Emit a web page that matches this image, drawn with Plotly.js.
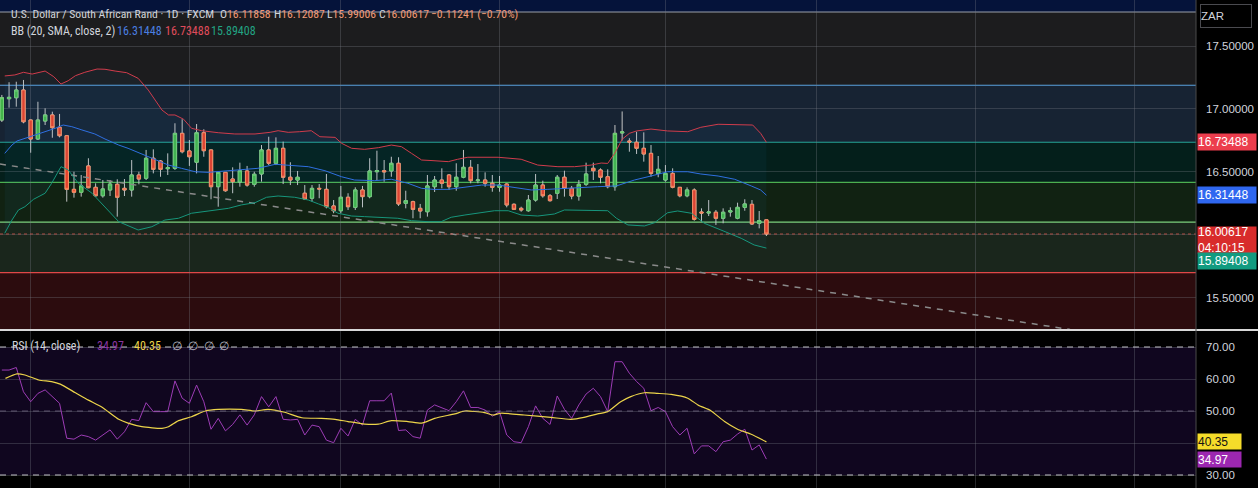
<!DOCTYPE html>
<html><head><meta charset="utf-8">
<script src="https://cdn.plot.ly/plotly-3.0.1.min.js"></script>
<style>html,body{margin:0;padding:0;background:#000;}#chart{width:1258px;height:488px;}</style>
</head><body><div id="chart"></div>
<script>
// ---------------- DATA ----------------
const open = [16.912,17.081,17.089,17.150,16.912,16.761,16.904,16.952,16.854,16.787,
16.361,16.338,16.547,16.377,16.310,16.356,16.401,16.369,16.356,16.475,
16.449,16.608,16.586,16.525,16.528,16.806,16.666,16.576,16.811,16.674,
16.382,16.496,16.443,16.419,16.507,16.401,16.483,16.674,16.568,16.687,
16.457,16.435,16.330,16.290,16.369,16.361,16.229,16.191,16.298,16.218,
16.356,16.303,16.501,16.509,16.507,16.568,16.250,16.263,16.210,16.183,
16.382,16.435,16.475,16.382,16.457,16.536,16.430,16.435,16.409,16.377,
16.403,16.242,16.210,16.191,16.276,16.395,16.310,16.330,16.457,16.369,
16.308,16.401,16.528,16.515,16.461,16.382,16.809,16.745,16.735,16.687,
16.647,16.488,16.435,16.488,16.377,16.310,16.356,16.181,16.173,16.179,
16.131,16.181,16.131,16.218,16.242,16.091,16.11858];
const high = [17.111,17.212,17.216,17.230,16.915,17.057,17.005,16.978,16.960,16.793,
16.501,16.475,16.608,16.409,16.435,16.435,16.441,16.443,16.594,16.501,
16.674,16.679,16.594,16.647,16.886,16.918,16.753,16.880,16.838,16.676,
16.498,16.498,16.536,16.573,16.547,16.501,16.713,16.779,16.774,16.740,
16.576,16.507,16.395,16.395,16.403,16.483,16.276,16.388,16.330,16.377,
16.388,16.608,16.668,16.594,16.620,16.616,16.350,16.271,16.245,16.475,
16.467,16.528,16.483,16.568,16.674,16.594,16.562,16.496,16.475,16.467,
16.409,16.250,16.223,16.316,16.483,16.430,16.324,16.475,16.509,16.388,
16.435,16.573,16.573,16.528,16.520,16.872,16.980,16.767,16.819,16.814,
16.713,16.626,16.554,16.528,16.380,16.377,16.369,16.210,16.276,16.197,
16.210,16.218,16.255,16.282,16.276,16.189,16.12087];
const low = [16.896,17.010,17.018,16.886,16.652,16.753,16.872,16.771,16.774,16.263,
16.295,16.303,16.370,16.303,16.295,16.308,16.144,16.308,16.303,16.401,
16.435,16.488,16.461,16.475,16.515,16.647,16.547,16.488,16.620,16.282,
16.223,16.342,16.330,16.382,16.382,16.382,16.422,16.554,16.554,16.403,
16.395,16.395,16.276,16.263,16.290,16.210,16.171,16.171,16.197,16.197,
16.218,16.290,16.435,16.422,16.461,16.229,16.210,16.131,16.131,16.144,
16.340,16.369,16.356,16.350,16.449,16.409,16.409,16.382,16.342,16.342,
16.218,16.197,16.183,16.183,16.263,16.295,16.263,16.284,16.303,16.282,
16.271,16.388,16.435,16.409,16.369,16.350,16.749,16.660,16.642,16.581,
16.461,16.457,16.422,16.369,16.298,16.298,16.112,16.104,16.149,16.078,
16.091,16.144,16.123,16.191,16.078,16.051,15.99006];
const close = [17.089,17.092,17.150,16.898,16.761,16.912,16.952,16.851,16.787,16.361,
16.338,16.388,16.374,16.310,16.364,16.403,16.298,16.356,16.475,16.443,
16.608,16.520,16.520,16.533,16.806,16.660,16.620,16.811,16.668,16.382,
16.496,16.350,16.422,16.509,16.395,16.481,16.674,16.568,16.687,16.457,
16.435,16.457,16.284,16.369,16.364,16.223,16.191,16.298,16.223,16.356,
16.303,16.507,16.509,16.501,16.568,16.245,16.271,16.202,16.189,16.388,
16.435,16.409,16.382,16.457,16.536,16.430,16.435,16.409,16.377,16.395,
16.237,16.202,16.197,16.276,16.395,16.310,16.271,16.457,16.369,16.308,
16.401,16.483,16.509,16.457,16.382,16.806,16.817,16.737,16.687,16.642,
16.488,16.520,16.488,16.377,16.310,16.356,16.123,16.173,16.181,16.131,
16.179,16.191,16.218,16.245,16.086,16.112,16.00617];

// Bollinger Bands (20, SMA, close, 2): [bar position, value]
const bbUpperX = [0.4,1.8,3.0,4.2,6.0,7.2,8.2,9.2,10.2,11.5,13.2,14.3,15.7,17.3,18.9,20.3,22.2,23.1,24.0,25.2,26.3,27.7,30.0,32.3,35.1,37.2,38.3,39.7,41.3,42.9,44.1,46.2,47.1,48.5,50.3,52.2,54.0,55.4,56.8,58.2,59.5,61.9,63.2,64.6,68.8,72.0,74.3,77.1,79.4,81.7,83.1,84.0,85.0,86.0,87.0,88.0,90.0,92.3,95.1,96.9,99.3,101.6,104.1,105.2,106];
const bbUpper  = [17.262,17.270,17.291,17.277,17.301,17.256,17.198,17.224,17.264,17.291,17.317,17.315,17.301,17.288,17.243,17.150,16.991,16.952,16.952,16.918,16.846,16.827,16.811,16.801,16.801,16.814,16.827,16.814,16.819,16.827,16.779,16.774,16.727,16.687,16.679,16.692,16.713,16.700,16.647,16.594,16.590,16.581,16.600,16.616,16.616,16.600,16.554,16.541,16.541,16.554,16.570,16.567,16.650,16.759,16.806,16.825,16.840,16.825,16.819,16.854,16.878,16.878,16.872,16.806,16.73488];
const bbMidX = [0.4,1.4,2.1,3.7,5.5,7.4,8.5,9.7,11.1,12.9,14.3,16.2,17.5,19.4,21.2,23.1,24.9,26.8,28.6,31.4,34.2,35.5,37.9,40.2,42.5,44.8,47.1,48.9,51.7,54.0,56.3,58.2,60.0,61.9,64.2,66.5,68.8,71.1,73.4,75.7,78.0,80.3,82.6,85.2,87.7,90.0,92.3,95.1,96.9,99.3,101.6,103.9,105.2,106];
const bbMid  = [16.647,16.713,16.745,16.775,16.811,16.846,16.872,16.859,16.833,16.801,16.761,16.713,16.687,16.642,16.600,16.554,16.528,16.501,16.496,16.507,16.520,16.528,16.560,16.549,16.541,16.509,16.461,16.435,16.430,16.441,16.409,16.369,16.360,16.361,16.377,16.395,16.395,16.377,16.356,16.361,16.369,16.377,16.382,16.388,16.435,16.467,16.501,16.501,16.483,16.467,16.441,16.388,16.356,16.31448];
const bbLowerX = [0.4,1.4,2.3,3.2,4.4,6.0,6.9,8.2,9.2,10.6,12.5,14.3,16.2,18.9,20.8,22.6,24.5,26.3,28.6,31.4,33.2,35.1,36.7,38.3,40.6,42.5,43.9,45.2,46.6,48.5,50.3,52.6,54.9,56.8,59.1,60.9,62.3,64.2,66.5,68.3,70.2,72.0,74.3,76.6,78.0,80.3,82.6,84.0,85.2,86.8,89.1,90.5,92.3,93.7,95.6,97.4,99.7,102.5,104.3,106];
const bbLower  = [16.012,16.117,16.197,16.223,16.282,16.330,16.409,16.541,16.515,16.409,16.330,16.223,16.104,16.038,16.064,16.117,16.131,16.171,16.191,16.210,16.237,16.255,16.298,16.308,16.298,16.276,16.245,16.218,16.171,16.149,16.144,16.139,16.131,16.112,16.104,16.104,16.139,16.157,16.175,16.191,16.191,16.157,16.149,16.165,16.197,16.197,16.193,16.191,16.131,16.078,16.070,16.096,16.175,16.189,16.171,16.091,16.038,15.972,15.919,15.89408];

// RSI (14, close), one value per bar
const rsi = [62.8,62.8,63.6,56.0,52.9,55.5,56.6,54.5,52.4,41.5,
41.2,42.5,42.0,40.9,42.5,44.1,41.2,43.5,47.4,47.0,
52.6,49.8,49.8,49.8,59.4,54.0,52.4,58.1,52.9,44.3,
47.7,43.8,45.8,48.8,45.6,48.8,54.5,51.3,54.5,47.4,
47.2,47.4,42.5,45.6,45.1,40.9,40.1,44.6,42.2,47.4,
45.6,53.2,53.2,53.2,55.6,43.9,44.1,42.0,41.5,50.3,
51.9,51.1,50.1,52.9,56.3,51.1,51.1,50.3,48.4,49.8,
42.5,40.4,40.1,45.1,51.6,47.7,45.8,54.7,50.5,47.7,
51.9,55.3,57.1,54.5,49.8,65.4,65.4,61.8,59.2,57.1,
50.1,51.1,49.8,45.1,42.5,44.6,36.6,39.1,39.1,37.3,
40.4,40.9,42.8,44.3,37.8,39.4,34.97];
// RSI-based MA: [bar position, value]
const rsiMaX = [0.5,2.1,3.2,5.1,6.9,8.1,10.2,12.0,13.9,16.2,17.5,19.4,22.2,23.1,24.5,26.3,28.2,30.0,33.2,35.1,36.9,39.2,41.6,44.3,46.2,48.0,50.3,52.2,54.0,56.3,58.2,60.0,62.8,64.2,66.9,68.1,69.2,72.4,76.1,78.9,80.7,82.6,84.0,85.8,87.2,89.1,90.9,92.8,95.1,96.5,98.3,100.2,102.0,103.8,106];
const rsiMa  = [60.2,61.6,61.25,59.7,59.2,58.4,55.7,53.4,51.2,47.4,46.2,45.1,44.6,45.1,47.0,48.2,50.0,50.5,50.5,50.0,50.5,49.6,47.9,47.7,47.4,46.7,45.9,45.9,47.0,46.7,46.2,47.7,49.1,50.0,49.5,48.75,49.3,48.75,48.0,47.4,48.0,49.1,49.8,52.9,54.5,55.7,55.5,55.2,54.0,51.9,50.1,46.7,44.3,42.8,40.35];

// drawn levels (zone borders, top to bottom) and trend line
const zoneLevels = [17.770, 17.188, 16.735, 16.417, 16.101, 15.699];
const trendX = [-0.26, 148.1];
const trendY = [16.562, 15.247];
const monthStarts = [4, 26, 47, 69, 92, 113, 135, 157];
const priceTicks = [15.5, 16.0, 16.5, 17.0, 17.5];
const priceTickText = ['15.50000', '', '16.50000', '17.00000', '17.50000'];
const rsiTicks = [30, 40, 50, 60, 70];
const rsiTickText = ['30.00', '', '50.00', '60.00', '70.00'];

// ---------------- BUILD ----------------
const N = close.length;
const idx = Array.from({length: N}, (_, i) => i);
const bodyHi = open.map((o, i) => Math.max(o, close[i]));
const bodyLo = open.map((o, i) => Math.min(o, close[i]));

const PW = 1196, PH = 488;
const pxX = x => x / PW, pxY = y => 1 - y / PH;
const LEG = '"Liberation Sans Narrow", "Arial Narrow", "Roboto Condensed", Roboto, sans-serif';
const AX = '"Liberation Sans", Arial, sans-serif';
const gridCol = 'rgba(120,123,134,0.32)';

const traces = [
  {type:'scatter', x: bbUpperX.concat(bbLowerX.slice().reverse()), y: bbUpper.concat(bbLower.slice().reverse()),
   fill:'toself', fillcolor:'rgba(33,150,243,0.05)', line:{width:0}, mode:'lines', hoverinfo:'skip', xaxis:'x', yaxis:'y'},
  {type:'scatter', x: trendX, y: trendY, mode:'lines', line:{color:'#8a8a8a', width:1.5, dash:'6px,6px'}, hoverinfo:'skip', xaxis:'x', yaxis:'y'},
  {type:'scatter', x: bbUpperX, y: bbUpper, mode:'lines', line:{color:'#d03c4c', width:1}, hoverinfo:'skip', xaxis:'x', yaxis:'y'},
  {type:'scatter', x: bbMidX, y: bbMid, mode:'lines', line:{color:'#2f6fe0', width:1}, hoverinfo:'skip', xaxis:'x', yaxis:'y'},
  {type:'scatter', x: bbLowerX, y: bbLower, mode:'lines', line:{color:'#17967c', width:1}, hoverinfo:'skip', xaxis:'x', yaxis:'y'},
  // wicks
  {type:'candlestick', x: idx, open: open, high: high, low: low, close: close, whiskerwidth:0,
   increasing:{line:{color:'#c4c4c4', width:1}, fillcolor:'rgba(0,0,0,0)'},
   decreasing:{line:{color:'#c4c4c4', width:1}, fillcolor:'rgba(0,0,0,0)'}, hoverinfo:'skip', xaxis:'x', yaxis:'y'},
  // bodies
  {type:'candlestick', x: idx, open: open, high: bodyHi, low: bodyLo, close: close, whiskerwidth:0,
   increasing:{line:{color:'#72cf74', width:1}, fillcolor:'#43b54a'},
   decreasing:{line:{color:'#ff8a5c', width:1}, fillcolor:'#e5402c'}, hoverinfo:'skip', xaxis:'x', yaxis:'y'},
  // RSI pane
  {type:'scatter', x: idx, y: rsi, mode:'lines', line:{color:'#9c3cb5', width:1}, hoverinfo:'skip', xaxis:'x', yaxis:'y2'},
  {type:'scatter', x: rsiMaX, y: rsiMa, mode:'lines', line:{color:'#ecd44a', width:1.2, shape:'spline', smoothing:0.6}, hoverinfo:'skip', xaxis:'x', yaxis:'y2'}
];

const zoneFills = ['#05133a', '#1c1c1e', '#172333', '#041f1b', '#112212', '#1a261c', '#2c0c0e'];
const zoneLines = ['#9aa0aa', '#5ba3e0', '#26a69a', '#4caf50', '#7ccf7c', '#e04848'];
const shapes = [];
const bounds = [18.5].concat(zoneLevels).concat([14.5]);
for (let i = 0; i < zoneFills.length; i++) {
  shapes.push({type:'rect', xref:'paper', yref:'y', x0:0, x1:1, y0:bounds[i+1], y1:bounds[i], fillcolor:zoneFills[i], line:{width:0}, layer:'below'});
}
zoneLevels.forEach((lv, i) => shapes.push({type:'line', xref:'paper', yref:'y', x0:0, x1:1, y0:lv, y1:lv, line:{color:zoneLines[i], width:1.2}, layer:'below'}));
// RSI band + levels
shapes.push({type:'rect', xref:'paper', yref:'y2', x0:0, x1:1, y0:30, y1:70, fillcolor:'#10061f', line:{width:0}, layer:'below'});
shapes.push({type:'line', xref:'paper', yref:'y2', x0:0, x1:1, y0:70, y1:70, line:{color:'#bfbfc4', width:1, dash:'6px,5px'}});
shapes.push({type:'line', xref:'paper', yref:'y2', x0:0, x1:1, y0:30, y1:30, line:{color:'#bfbfc4', width:1, dash:'6px,5px'}});
shapes.push({type:'line', xref:'paper', yref:'y2', x0:0, x1:1, y0:50, y1:50, line:{color:'rgba(150,140,170,0.55)', width:1, dash:'6px,5px'}});
// last price dotted line
const lastC = close[N-1];
shapes.push({type:'line', xref:'paper', yref:'y', x0:0, x1:1, y0:lastC, y1:lastC, line:{color:'rgba(220,90,80,0.75)', width:1, dash:'dot'}});
// pane separator and axis border
shapes.push({type:'line', xref:'paper', yref:'paper', x0:0, x1:1258/PW, y0:158/PH, y1:158/PH, line:{color:'#d8d8d8', width:2}});
shapes.push({type:'line', xref:'paper', yref:'paper', x0:1, x1:1, y0:0, y1:1, line:{color:'#4a4a4a', width:1}});

const ann = [];
function txt(x, y, text, color, size) {
  ann.push({xref:'paper', yref:'paper', x:pxX(x), y:pxY(y), xanchor:'left', yanchor:'middle', showarrow:false,
    text:text, font:{family:LEG, size:size || 12, color:color}});
}
const VAL = '#f29a76';
const sp = (c, t) => '<span style="color:' + c + '">' + t + '</span>';
const chg = lastC - open[N-1];
const pct = chg / open[N-1] * 100;
const fmtSigned = (v, d) => (v < 0 ? '\u2212' : '+') + Math.abs(v).toFixed(d);
txt(9, 14, 'U.S. Dollar / South African Rand \u00b7 1D \u00b7 FXCM', '#d1d4dc', 11.7);
txt(218, 14, 'O' + sp(VAL, open[N-1].toFixed(5)), '#d1d4dc', 11.7);
txt(272, 14, 'H' + sp(VAL, high[N-1].toFixed(5)), '#d1d4dc', 11.7);
txt(325, 14, 'L' + sp(VAL, low[N-1].toFixed(5)), '#d1d4dc', 11.7);
txt(377, 14, 'C' + sp(VAL, lastC.toFixed(5)), '#d1d4dc', 11.7);
txt(429, 14, fmtSigned(chg, 5) + ' (' + fmtSigned(pct, 2) + '%)', VAL, 11.7);
txt(9, 31, 'BB (20, SMA, close, 2)', '#d1d4dc');
txt(115, 31, bbMid[bbMid.length-1].toFixed(5), '#4a7fe0');
txt(163, 31, bbUpper[bbUpper.length-1].toFixed(5), '#e04c5c');
txt(209, 31, bbLower[bbLower.length-1].toFixed(5), '#22a383');
txt(10, 346, 'RSI (14, close)', '#d1d4dc');
txt(95, 346, rsi[N-1].toFixed(2), '#8a35a0');
txt(132, 346, rsiMa[rsiMa.length-1].toFixed(2), '#ecd44a');
[170, 186, 202, 217].forEach(x => txt(x, 346, '\u2205', '#b2b5be'));

function box(yref, y, text, bg, fg, opts) {
  ann.push(Object.assign({xref:'paper', yref:yref, x:1, y:y, xanchor:'left', yanchor:'middle', showarrow:false,
    text:text, bgcolor:bg, width:58, height:16, align:'left', borderpad:0, xshift:1,
    font:{family:AX, size:12, color:fg}}, opts || {}));
}
box('y', bbUpper[bbUpper.length-1], bbUpper[bbUpper.length-1].toFixed(5), '#ec3d4d', '#ffffff');
box('y', bbMid[bbMid.length-1], bbMid[bbMid.length-1].toFixed(5), '#2f67f0', '#ffffff');
box('y', lastC, lastC.toFixed(5) + '<br>04:10:15', '#d82c2c', '#ffffff', {yanchor:'top', yshift:8, height:26});
box('y', bbLower[bbLower.length-1], bbLower[bbLower.length-1].toFixed(5), '#129b80', '#ffffff', {yanchor:'top', yshift:-4});
box('y2', rsiMa[rsiMa.length-1], rsiMa[rsiMa.length-1].toFixed(2), '#f5dc2a', '#131313', {width:43, height:15});
box('y2', rsi[N-1], rsi[N-1].toFixed(2), '#9c27b0', '#ffffff', {width:43, height:15});
ann.push({xref:'paper', yref:'paper', x:1, xshift:4, y:pxY(4), xanchor:'left', yanchor:'top', showarrow:false,
  text:'ZAR', width:50, height:22, align:'left', bordercolor:'#4a4a4f', borderwidth:1, borderpad:0,
  font:{family:AX, size:11.5, color:'#d1d4dc'}});

const layout = {
  width:1258, height:488, margin:{l:0, r:62, t:0, b:0, pad:0},
  paper_bgcolor:'#000', plot_bgcolor:'#000', showlegend:false, boxgap:0.35,
  xaxis:{range:[-0.256, 165.56], tickvals:monthStarts, showticklabels:false, ticks:'', showgrid:true, gridcolor:gridCol, gridwidth:1,
    zeroline:false, showline:false, rangeslider:{visible:false}, anchor:'y2', fixedrange:true},
  yaxis:{domain:[158/PH, 1], range:[15.2433, 17.8655], side:'right', anchor:'x', tickvals:priceTicks, ticktext:priceTickText,
    ticks:'', ticklabelstandoff:9, showgrid:true, gridcolor:gridCol, zeroline:false, showline:false,
    tickfont:{family:AX, size:11.5, color:'#d1d4dc'}, fixedrange:true},
  yaxis2:{domain:[0, 157/PH], range:[25.94, 75], side:'right', anchor:'x', tickvals:rsiTicks, ticktext:rsiTickText,
    ticks:'', ticklabelstandoff:9, showgrid:true, gridcolor:gridCol, zeroline:false, showline:false,
    tickfont:{family:AX, size:11.5, color:'#d1d4dc'}, fixedrange:true},
  shapes:shapes, annotations:ann
};
Plotly.newPlot('chart', traces, layout, {staticPlot:true, displayModeBar:false});
</script></body></html>
